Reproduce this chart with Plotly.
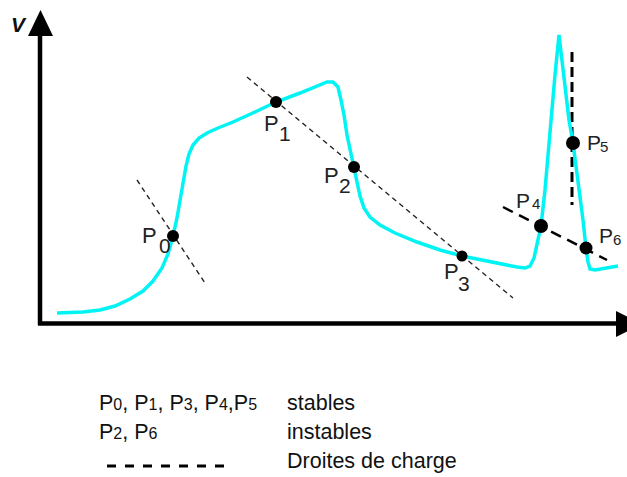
import plotly.graph_objects as go

# ---- data (diagram coordinates: x to the right, y downward) ----
curve_x = [57, 83, 100, 115, 130, 143, 153, 162, 168, 173, 177, 180, 183, 186, 189, 193, 199, 207, 218, 233,
           255, 276, 300, 315, 327, 333, 338, 341, 344, 347, 350, 354, 357, 360, 364, 370, 380, 395, 417, 440,
           462, 490, 517, 525, 530, 534, 537, 541, 545, 550, 555, 559, 564, 569, 573, 578, 583, 586, 588, 590,
           595, 618]
curve_y = [313, 312, 310, 306, 299, 291, 281, 268, 254, 236, 218, 200, 182, 166, 154, 145, 138, 133, 128, 122,
           112, 102, 93, 87, 82, 82, 87, 100, 115, 135, 150, 167, 182, 196, 208, 217, 225, 233, 242, 250,
           256, 262, 267, 268, 266, 258, 245, 226, 190, 130, 75, 35, 80, 120, 143, 180, 220, 248, 262, 269,
           270, 266]

point_names = ["0", "1", "2", "3", "4", "5", "6"]
point_x = [173, 276, 354, 462, 541, 573, 586]
point_y = [236, 102, 167, 256, 226, 143, 248]
point_size = [12, 12, 12, 11, 14, 14, 13]

# load lines (droites de charge)
load0_x, load0_y = [137, 205], [180, 283]
load123_x, load123_y = [247, 513], [77, 298]
load46_x, load46_y = [503, 607], [207, 260]
load5_x, load5_y = [572, 572], [52, 205]

SUB = "<span style='font-size:16px'>{}</span>"
legend_rows = ["P" + SUB.format("0") + ", P" + SUB.format("1") + ", P" + SUB.format("3") + ", P"
               + SUB.format("4") + ",P" + SUB.format("5"),
               "P" + SUB.format("2") + ", P" + SUB.format("6"),
               ""]
legend_desc = ["stables", "instables", "Droites de charge"]

FONT = "Liberation Sans, Arial, sans-serif"
TXT = "#111111"

fig = go.Figure()

# load lines
fig.add_trace(go.Scatter(x=load0_x, y=load0_y, mode="lines",
                         line=dict(color="#222", width=1.4, dash="5px,4px")))
fig.add_trace(go.Scatter(x=load123_x, y=load123_y, mode="lines",
                         line=dict(color="#222", width=1.4, dash="5px,4px")))
fig.add_trace(go.Scatter(x=load46_x, y=load46_y, mode="lines",
                         line=dict(color="black", width=2.5, dash="11px,7px")))
fig.add_trace(go.Scatter(x=load5_x, y=load5_y, mode="lines",
                         line=dict(color="black", width=3, dash="10px,5px")))

# characteristic curve
fig.add_trace(go.Scatter(x=curve_x, y=curve_y, mode="lines",
                         line=dict(color="#00F4F4", width=3.5)))

# operating points
fig.add_trace(go.Scatter(x=point_x, y=point_y, mode="markers",
                         marker=dict(color="black", size=point_size, opacity=1,
                                     line=dict(width=0))))

# legend dashed line
fig.add_trace(go.Scatter(x=[107, 226], y=[466, 466], mode="lines",
                         line=dict(color="black", width=3, dash="9px,9px")))

shapes = []
# axes with arrowheads
shapes.append(dict(type="line", x0=40, y0=325, x1=40, y1=30, line=dict(color="black", width=4.5)))
shapes.append(dict(type="path", path="M 28,36 L 53,36 L 40.5,10 Z", fillcolor="black", line=dict(width=0)))
shapes.append(dict(type="line", x0=38, y0=323.5, x1=620, y1=323.5, line=dict(color="black", width=4.5)))
shapes.append(dict(type="path", path="M 616,311 L 616,337 L 642,324 Z", fillcolor="black", line=dict(width=0)))

ann = []
# V label
ann.append(dict(x=19, y=24, text="<b><i>V</i></b>", font=dict(size=21, family=FONT, color="#111")))

# point labels: big lowered subscripts for P0..P3, small for P4..P6
big_P = [(140, 235), (262, 123), (322, 175), (442, 271)]
big_S = [(157, 245), (277, 133), (337, 185), (456, 283)]
for i in range(4):
    ann.append(dict(x=big_P[i][0], y=big_P[i][1], text="P", xanchor="left",
                    font=dict(size=22, family=FONT, color="#222")))
    ann.append(dict(x=big_S[i][0], y=big_S[i][1], text=point_names[i], xanchor="left",
                    font=dict(size=21, family=FONT, color="#222")))
small_P = [(514, 200), (585, 142), (597, 235)]
small_S = [(530, 203), (598, 146), (611, 239)]
for j in range(3):
    ann.append(dict(x=small_P[j][0], y=small_P[j][1], text="P", xanchor="left",
                    font=dict(size=21, family=FONT, color="#222")))
    ann.append(dict(x=small_S[j][0], y=small_S[j][1], text=point_names[4 + j], xanchor="left",
                    font=dict(size=15, family=FONT, color="#222")))

# legend text
row_y = [402.5, 431.5, 460.5]
for k in range(3):
    if legend_rows[k]:
        ann.append(dict(x=97, y=row_y[k], text=legend_rows[k], xanchor="left",
                        font=dict(size=21.5, family=FONT, color=TXT)))
    ann.append(dict(x=285, y=row_y[k], text=legend_desc[k], xanchor="left",
                    font=dict(size=21.5, family=FONT, color=TXT)))

for a in ann:
    a.setdefault("xanchor", "center")
    a["yanchor"] = "middle"
    a["showarrow"] = False
    a["xref"] = "x"
    a["yref"] = "y"

fig.update_layout(
    width=627, height=477,
    margin=dict(l=0, r=0, t=0, b=0),
    paper_bgcolor="white", plot_bgcolor="white",
    showlegend=False,
    xaxis=dict(range=[0, 627], visible=False, fixedrange=True),
    yaxis=dict(range=[477, 0], visible=False, fixedrange=True),
    shapes=shapes, annotations=ann,
)

fig.write_html("out.html", config={"displayModeBar": False},
               post_script="document.body.style.margin='0';")
